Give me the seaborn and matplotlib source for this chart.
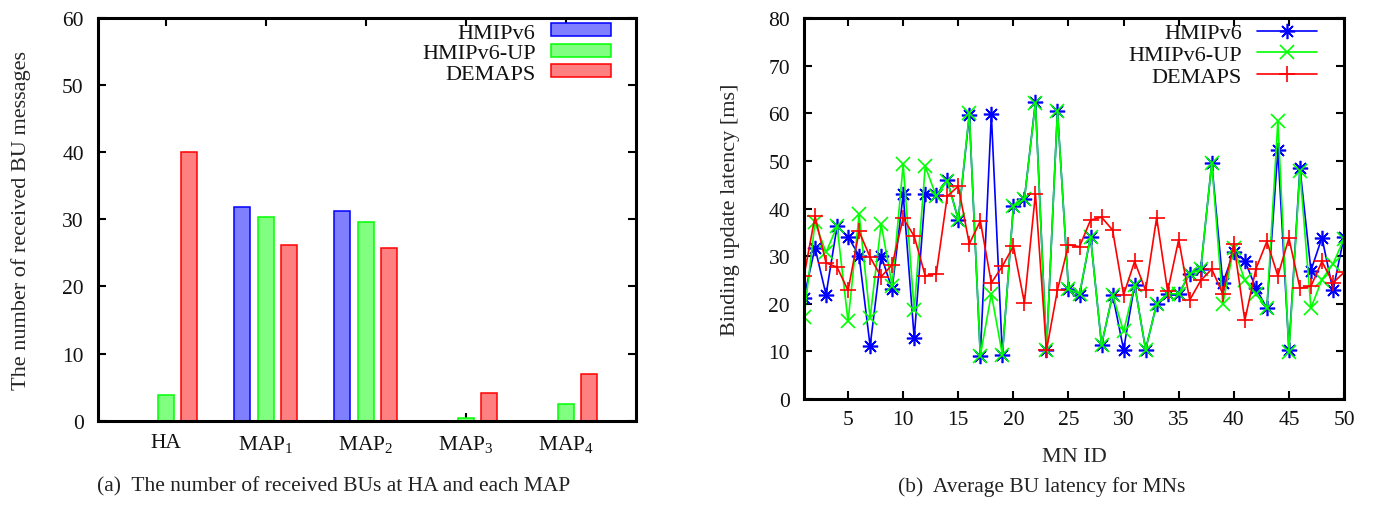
import numpy as np
import pandas as pd
import matplotlib
matplotlib.use("Agg")
import matplotlib.pyplot as plt
from matplotlib.patches import Patch
import seaborn as sns

# ---- data: received binding updates per node ----
nodes = ["HA", "MAP$_1$", "MAP$_2$", "MAP$_3$", "MAP$_4$"]
schemes = ["HMIPv6", "HMIPv6-UP", "DEMAPS"]
bu_hmipv6 = [0.0, 31.8, 31.2, 0.0, 0.0]
bu_hmipv6_up = [3.9, 30.3, 29.6, 0.35, 2.5]
bu_demaps = [40.0, 26.2, 25.8, 4.1, 7.0]

# ---- data: average binding update latency per mobile node ----
mn_id = list(range(1, 51))
lat_hmipv6 = [21.3, 31.8, 21.9, 36.3, 34.1, 30.1, 11.1, 30.1, 23.1, 43.0,
              12.8, 43.1, 42.8, 46.0, 37.7, 59.7, 9.1, 59.8, 9.3, 40.5,
              42.0, 62.4, 10.2, 60.6, 23.1, 21.9, 34.1, 11.4, 21.9, 10.4,
              24.0, 10.4, 20.0, 22.1, 22.1, 26.3, 27.3, 49.6, 24.4, 30.8,
              29.1, 23.3, 19.1, 52.4, 10.4, 48.6, 27.0, 33.9, 22.8, 34.1]
lat_hmipv6_up = [17.2, 37.1, 30.8, 36.3, 16.3, 38.8, 17.0, 36.8, 23.8, 49.3,
                 18.6, 48.9, 42.6, 45.9, 37.7, 60.1, 9.1, 22.1, 9.3, 40.5,
                 42.0, 62.2, 10.2, 60.6, 23.1, 22.1, 34.1, 11.4, 21.9, 14.2,
                 24.0, 10.4, 20.0, 22.1, 22.1, 26.3, 27.3, 49.6, 20.0, 31.7,
                 24.9, 22.1, 19.1, 58.4, 9.8, 47.9, 19.1, 25.1, 28.4, 33.6]
lat_demaps = [25.8, 38.4, 28.6, 27.7, 22.8, 35.2, 29.8, 25.7, 28.2, 38.0,
              34.2, 25.9, 26.3, 42.6, 44.7, 32.6, 37.4, 24.4, 27.9, 32.1,
              20.2, 43.1, 10.2, 22.9, 32.4, 32.0, 37.6, 38.2, 35.5, 21.9,
              28.9, 22.8, 38.1, 22.6, 33.5, 20.8, 24.9, 27.3, 22.1, 32.6,
              16.5, 27.3, 33.1, 25.9, 33.8, 23.3, 23.7, 28.9, 24.4, 26.6]

line_colors = ["#0000ff", "#00ff00", "#ff0000"]
face_colors = ["#8080ff", "#80ff80", "#ff8080"]
markers = [(8, 2, 0), "x", "+"]
marker_sizes = [11, 10, 12]

sns.set_style("ticks")
plt.rcParams["font.family"] = ["Liberation Serif", "DejaVu Serif"]
plt.rcParams["mathtext.fontset"] = "custom"
plt.rcParams["mathtext.rm"] = "Liberation Serif"
plt.rcParams["mathtext.it"] = "Liberation Serif:italic"
plt.rcParams["text.color"] = "#111111"

fig = plt.figure(figsize=(13.85, 5.06), dpi=100)
ax1 = fig.add_axes([0.0705, 0.1666, 0.3887, 0.7958])
ax2 = fig.add_axes([0.5805, 0.2095, 0.3899, 0.7524])

# ---- left panel: grouped bars ----
bar_df = pd.DataFrame({
    "node": nodes * 3,
    "count": bu_hmipv6 + bu_hmipv6_up + bu_demaps,
    "scheme": [s for s in schemes for _ in nodes],
})
sns.barplot(data=bar_df, x="node", y="count", hue="scheme", hue_order=schemes,
            palette=face_colors, width=0.70, gap=0.313, saturation=1,
            legend=False, ax=ax1, linewidth=1.1)
for cont, ec in zip(ax1.containers, line_colors):
    for p in cont:
        p.set_edgecolor(ec)
        p.set_linewidth(1.1)

ax1.set_xlim(-0.68, 4.70)
ax1.set_ylim(0, 60)
ax1.set_yticks(np.arange(0, 61, 10))
ax1.set_xlabel("")
ax1.set_ylabel("The number of received BU messages", fontsize=16)
ax1.yaxis.set_label_coords(-0.124, 0.5)
ax1.set_axisbelow(True)
ax1.tick_params(axis="both", direction="in", length=6, width=1.5,
                top=True, right=True, labelsize=15.5, colors="black",
                labelcolor="#111111")
ax1.tick_params(axis="x", pad=9)
ax1.tick_params(axis="y", pad=10)
bar_handles = [Patch(facecolor=fc, edgecolor=ec, linewidth=1.1)
               for fc, ec in zip(face_colors, line_colors)]
ax1.legend(bar_handles, schemes, loc="upper right",
           bbox_to_anchor=(0.953, 0.987), frameon=False, markerfirst=False,
           fontsize=16, handlelength=2.7, handleheight=0.53,
           handletextpad=0.68, labelspacing=0.05, borderpad=0, borderaxespad=0)

# ---- right panel: latency per mobile node ----
for vals, name, c, m, ms in zip([lat_hmipv6, lat_hmipv6_up, lat_demaps], schemes,
                                line_colors, markers, marker_sizes):
    sns.lineplot(x=mn_id, y=vals, color=c, marker=m, markersize=ms,
                 markeredgecolor=c, markeredgewidth=1.2, linewidth=1.2,
                 label=name, legend=False, ax=ax2)

ax2.set_xlim(1, 50)
ax2.set_ylim(0, 80)
ax2.set_xticks(np.arange(5, 51, 5))
ax2.set_yticks(np.arange(0, 81, 10))
ax2.set_xlabel("MN ID", fontsize=16)
ax2.set_ylabel("Binding update latency [ms]", fontsize=16)
ax2.xaxis.set_label_coords(0.5, -0.125)
ax2.yaxis.set_label_coords(-0.118, 0.5)
ax2.tick_params(axis="both", direction="in", length=6, width=1.5,
                top=True, right=True, labelsize=15.5, colors="black",
                labelcolor="#111111")
ax2.tick_params(axis="x", pad=8)
ax2.tick_params(axis="y", pad=10)
ax2.legend(ax2.lines[:3], schemes, loc="upper right",
           bbox_to_anchor=(0.95, 0.988), frameon=False, markerfirst=False,
           fontsize=16, handlelength=2.7, handletextpad=0.68,
           labelspacing=0.05, borderpad=0, borderaxespad=0)

for ax in (ax1, ax2):
    for sp in ax.spines.values():
        sp.set_linewidth(2.2)
        sp.set_color("black")
        sp.set_visible(True)

fig.text(0.241, 0.028, "(a)  The number of received BUs at HA and each MAP",
         ha="center", va="baseline", fontsize=15.5, color="#222222")
fig.text(0.7523, 0.028, "(b)  Average BU latency for MNs",
         ha="center", va="baseline", fontsize=15.5, color="#222222")

fig.savefig("out.png", dpi=100)
